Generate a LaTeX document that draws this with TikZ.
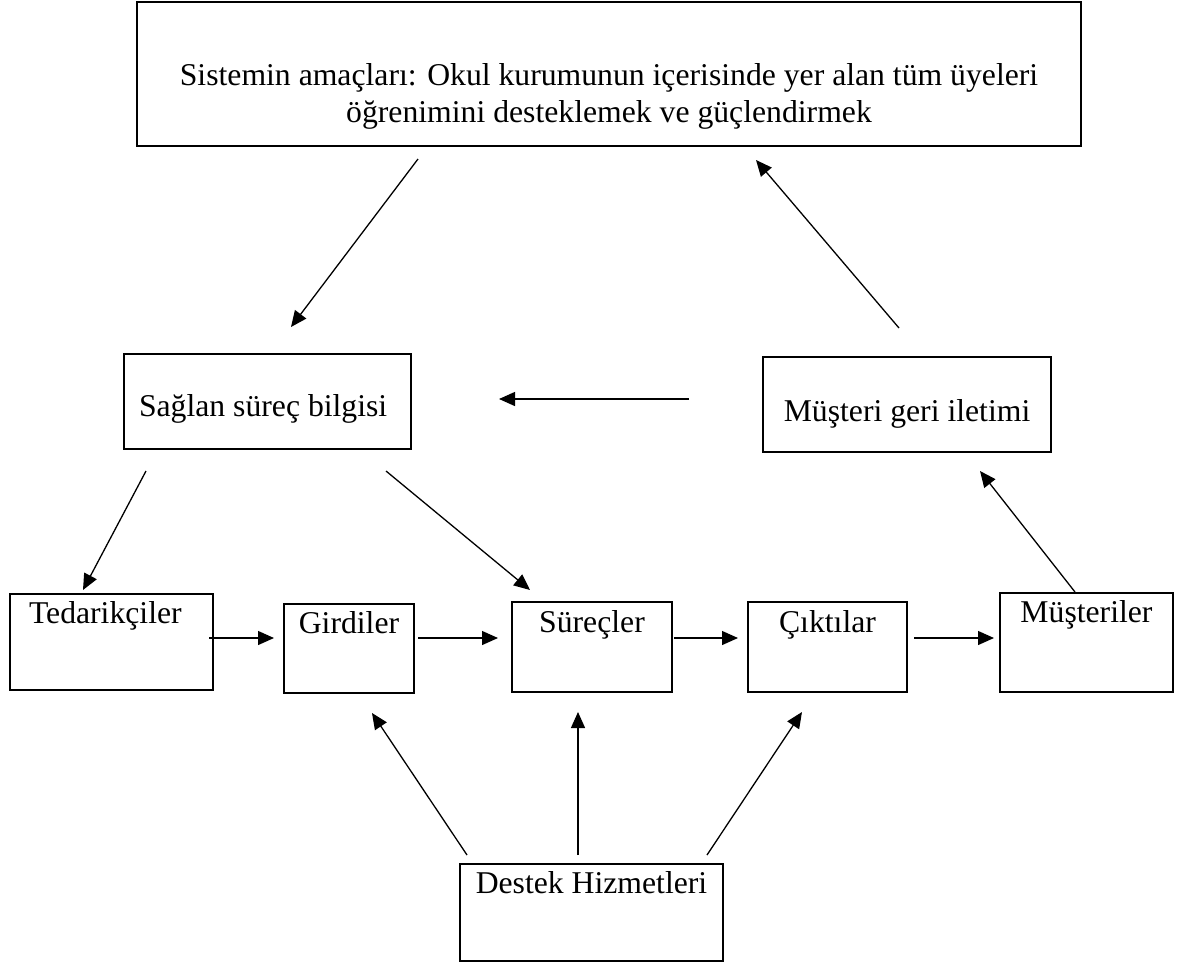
\documentclass[tikz,border=0pt]{standalone}
\usepackage{fontspec}
\setmainfont{Liberation Serif}
\usetikzlibrary{arrows.meta}

\tikzset{
  box/.style={draw, line width=0.9pt, anchor=north, inner xsep=0pt, inner ysep=0pt,
    font=\fontsize{15.85}{18.2}\selectfont},
  arr/.style={line width=0.65pt, -{Triangle[length=8pt,width=7pt]}},
}

\begin{document}
\begin{tikzpicture}[x=0.5pt, y=-0.5pt]
\useasboundingbox (0,0) rectangle (1179,964);
% boxes
\node[box, text width=472pt, align=flush center, text height=42pt, text depth=30pt] (goal) at (609,1)
  {Sistemin amaçları: Okul kurumunun içerisinde yer alan tüm üyeleri\\ öğrenimini desteklemek ve güçlendirmek};
\node[box, text width=128.5pt, inner xsep=7.5pt, align=flush left, text height=31.5pt, text depth=16pt] (sag) at (267.5,353) {Sağlan süreç bilgisi};
\node[box, minimum width=144pt, text height=32.5pt, text depth=15pt] (geri) at (907,356) {Müşteri geri iletimi};
\node[box, text width=82.5pt, inner xsep=9.5pt, align=flush left, text height=15pt, text depth=33pt] (ted) at (111.5,593) {Tedarikçiler};
\node[box, minimum width=65pt, text height=15pt, text depth=29.5pt] (gir) at (349,603) {Girdiler};
\node[box, minimum width=80pt, text height=15.5pt, text depth=29.5pt] (sur) at (592,601) {Süreçler};
\node[box, minimum width=79.5pt, text height=15.5pt, text depth=29.5pt] (cik) at (827.5,601) {Çıktılar};
\node[box, minimum width=86.5pt, text height=15pt, text depth=34.5pt] (mus) at (1086.5,592) {Müşteriler};
\node[box, minimum width=131.5pt, text height=15pt, text depth=33.5pt] (des) at (591.5,863) {Destek Hizmetleri};

% arrow ends (arrows do not touch the boxes)
\coordinate (goal-out) at (418,159);  \coordinate (sag-in) at (291,327);
\coordinate (geri-out) at (899,328);  \coordinate (goal-in) at (756,160);
\coordinate (geri-left) at (689,399); \coordinate (sag-right) at (499,399);
\coordinate (sag-out1) at (146,471);  \coordinate (ted-in) at (83,590);
\coordinate (sag-out2) at (386,471);  \coordinate (sur-in) at (530,590);
\coordinate (mus-out) at (1075,592);  \coordinate (geri-in) at (980,471);
\coordinate (ted-r) at (209,638);  \coordinate (gir-l) at (274,638);
\coordinate (gir-r) at (418,638);  \coordinate (sur-l) at (498,638);
\coordinate (sur-r) at (674,638);  \coordinate (cik-l) at (738,638);
\coordinate (cik-r) at (914,638);  \coordinate (mus-l) at (994,638);
\coordinate (des-out1) at (467,855); \coordinate (gir-b) at (372,713);
\coordinate (des-out2) at (578,855); \coordinate (sur-b) at (578,712);
\coordinate (des-out3) at (707,855); \coordinate (cik-b) at (802,712);

\foreach \a/\b in {goal-out/sag-in, geri-out/goal-in, geri-left/sag-right,
  sag-out1/ted-in, sag-out2/sur-in, mus-out/geri-in,
  ted-r/gir-l, gir-r/sur-l, sur-r/cik-l, cik-r/mus-l,
  des-out1/gir-b, des-out2/sur-b, des-out3/cik-b}
  \draw[arr] (\a) -- (\b);
\end{tikzpicture}
\end{document}
